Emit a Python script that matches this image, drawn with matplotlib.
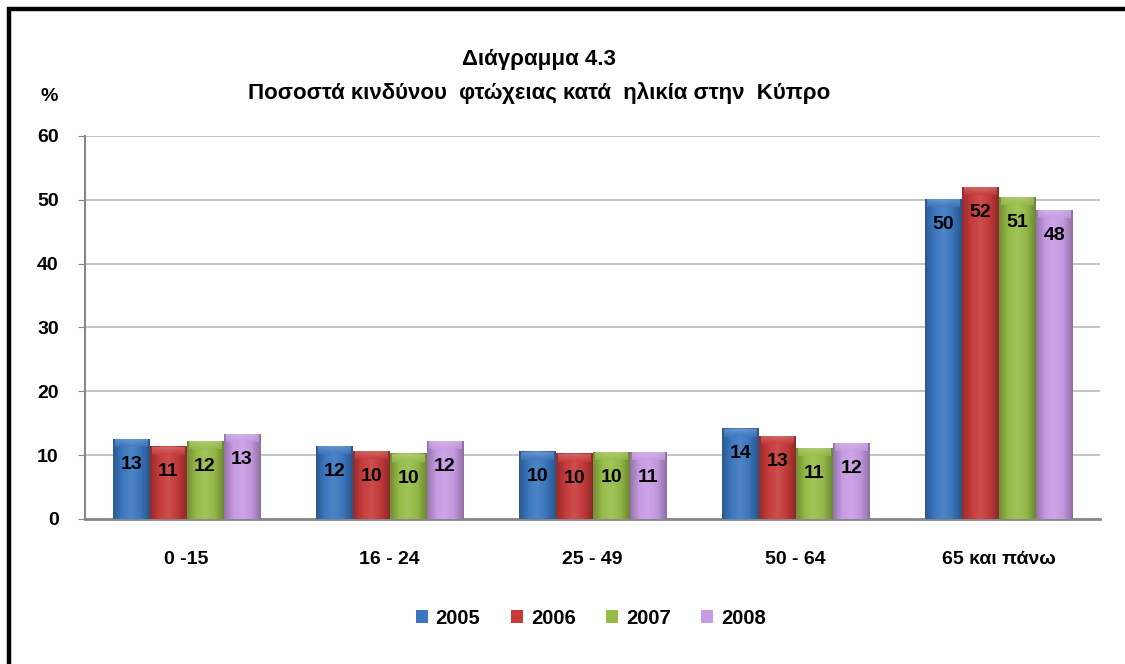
import matplotlib.pyplot as plt
from matplotlib.colors import LinearSegmentedColormap, to_rgb
from matplotlib.patches import Patch
from matplotlib.lines import Line2D
import numpy as np

plt.rcParams['font.family'] = ['Liberation Sans', 'DejaVu Sans']
plt.rcParams['font.weight'] = 'bold'

# Data
categories = ["0 -15", "16 - 24", "25 - 49", "50 - 64", "65 και πάνω"]
years = ["2005", "2006", "2007", "2008"]
values_2005 = [12.5, 11.4, 10.5, 14.1, 50.0]
values_2006 = [11.3, 10.6, 10.2, 12.9, 52.0]
values_2007 = [12.1, 10.2, 10.4, 11.1, 50.4]
values_2008 = [13.2, 12.1, 10.4, 11.9, 48.3]
labels_2005 = [13, 12, 10, 14, 50]
labels_2006 = [11, 10, 10, 13, 52]
labels_2007 = [12, 10, 10, 11, 51]
labels_2008 = [13, 12, 11, 12, 48]

series = [values_2005, values_2006, values_2007, values_2008]
series_labels = [labels_2005, labels_2006, labels_2007, labels_2008]
colors = ["#3B77BF", "#C63B3A", "#97BC48", "#C79BE3"]


def shade(color, f):
    r, g, b = to_rgb(color)
    if f < 1:
        return (r * f, g * f, b * f)
    return (r + (1 - r) * (f - 1), g + (1 - g) * (f - 1), b + (1 - b) * (f - 1))


fig = plt.figure(figsize=(11.25, 6.64), dpi=100)
ax = fig.add_axes([0.0756, 0.2184, 0.9024, 0.5768])

x = np.arange(len(categories))
width = 0.182
offsets = (np.arange(len(years)) - 1.5) * width

for vals, labs, col, off in zip(series, series_labels, colors, offsets):
    # horizontal gradient to mimic the bevelled bars
    cmap = LinearSegmentedColormap.from_list(
        "g", [shade(col, 0.75), shade(col, 1.0), shade(col, 1.1), shade(col, 0.97), shade(col, 0.72)])
    grad = np.linspace(0, 1, 64).reshape(1, -1)
    # vertical highlight near the top
    cap = LinearSegmentedColormap.from_list("c", [shade(col, 1.0), shade(col, 1.3)])
    for xi, v, lab in zip(x, vals, labs):
        x0 = xi + off - width / 2
        ax.imshow(grad, extent=[x0, x0 + width, 0, v], aspect='auto', cmap=cmap,
                  zorder=3, interpolation='bilinear')
        ax.imshow(np.linspace(0, 1, 32).reshape(-1, 1)[::-1], extent=[x0 + 0.01, x0 + width - 0.01, v - 1.2, v],
                  aspect='auto', cmap=cap, alpha=0.7, zorder=4, interpolation='bilinear', origin='upper')
        ax.annotate(str(lab), (xi + off, v), xytext=(0, -18), textcoords='offset points',
                    ha='center', va='center', fontsize=14, fontweight='bold', zorder=5)

ax.set_xlim(-0.5, len(categories) - 0.5)
ax.set_ylim(0, 60)
ax.set_yticks(np.arange(0, 61, 10))
ax.set_xticks(x)
ax.set_xticklabels(categories)
ax.tick_params(axis='x', length=0, pad=23, labelsize=14)
ax.tick_params(axis='y', length=5, color='#888888', pad=14, labelsize=14)
ax.yaxis.grid(True, color='#BFBFBF', linewidth=1.3)
ax.set_axisbelow(True)
for s in ['top', 'right']:
    ax.spines[s].set_visible(False)
ax.spines['left'].set_color('#888888')
ax.spines['bottom'].set_color('#888888')
ax.spines['left'].set_linewidth(1.5)
ax.spines['bottom'].set_linewidth(2)

fig.text(0.479, 0.91, "Διάγραμμα 4.3", ha='center', va='center', fontsize=16, fontweight='bold')
fig.text(0.479, 0.86, "Ποσοστά κινδύνου  φτώχειας κατά  ηλικία στην  Κύπρο",
         ha='center', va='center', fontsize=16, fontweight='bold')
fig.text(0.0436, 0.855, "%", ha='center', va='center', fontsize=14, fontweight='bold')

handles = [Patch(facecolor=c, edgecolor='none') for c in colors]
fig.legend(handles, years, loc='center', bbox_to_anchor=(0.525, 0.069), ncol=4, frameon=False,
           fontsize=14.5, handlelength=0.6, handleheight=0.6, handletextpad=0.4, columnspacing=1.5)

# outer border: only left and top edges are visible in the reference
fig.add_artist(Line2D([0.008, 0.008, 1.0], [0.0, 0.986, 0.986], transform=fig.transFigure,
                      color='black', linewidth=3.2, solid_joinstyle='miter'))

fig.savefig("out.png", dpi=100)
